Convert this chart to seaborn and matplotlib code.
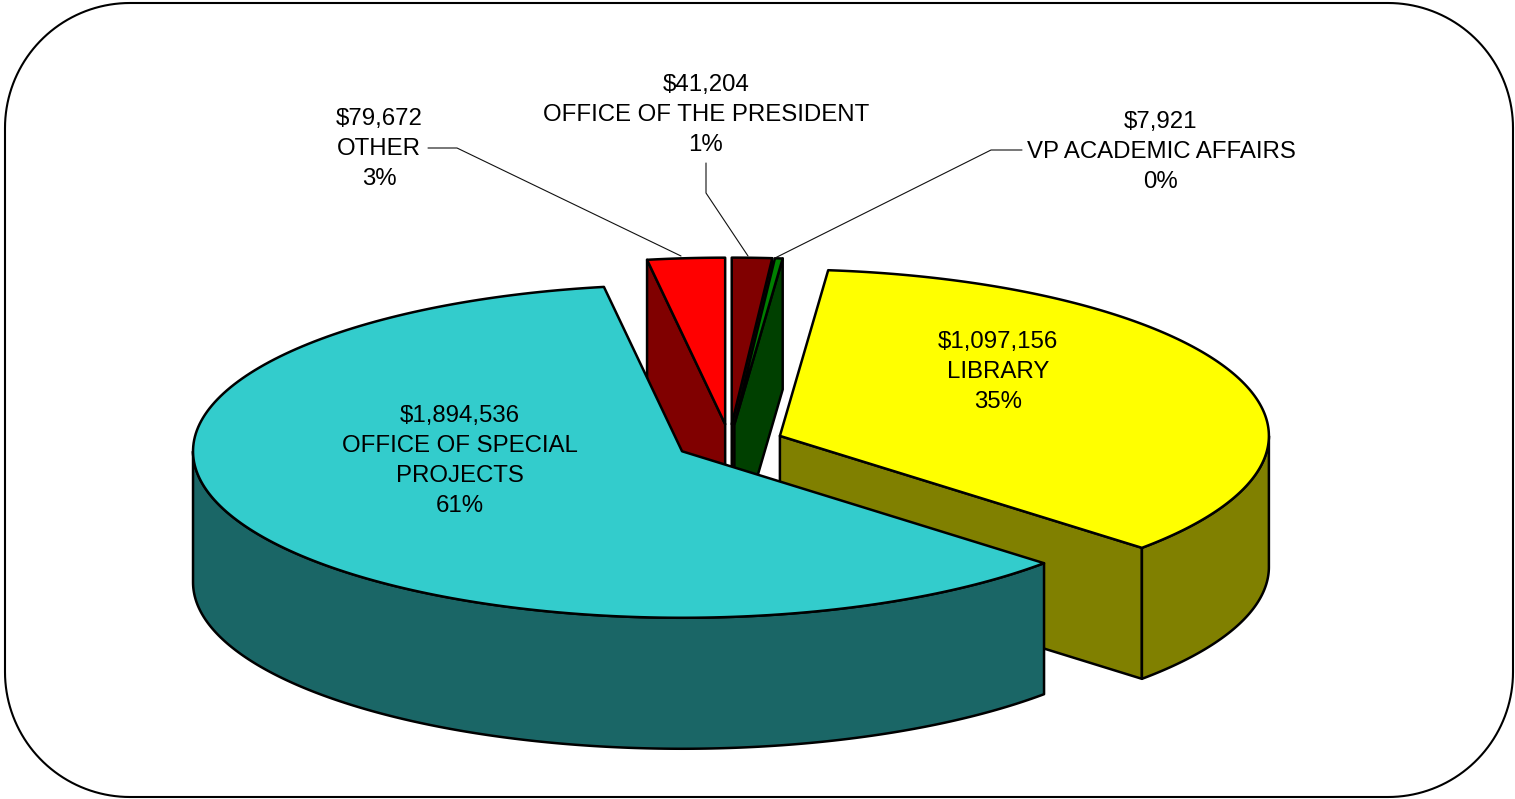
import numpy as np
import pandas as pd
import matplotlib
matplotlib.use("Agg")
import matplotlib.pyplot as plt
from matplotlib.patches import Polygon
import seaborn as sns

# data, clockwise from 12 o'clock
names = ["OFFICE OF THE PRESIDENT", "VP ACADEMIC AFFAIRS", "LIBRARY",
         "OFFICE OF SPECIAL\nPROJECTS", "OTHER"]
amounts = [41204, 7921, 1097156, 1894536, 79672]
top_colors = ["#800000", "#008000", "#FFFF00", "#33CCCC", "#FF0000"]
side_colors = ["#400000", "#004000", "#808000", "#1A6666", "#800000"]

sns.set_theme(style="white")
plt.rcParams["font.family"] = ["Liberation Sans", "DejaVu Sans"]

START_ANGLE = 90
df = pd.DataFrame({"name": names, "amount": amounts, "top": top_colors, "side": side_colors})
df["pct"] = df["amount"] / df["amount"].sum() * 100
df["sweep"] = df["pct"] * 3.6
df["end"] = START_ANGLE - df["sweep"].cumsum()
df["start"] = df["end"] + df["sweep"]
df["mid"] = (df["start"] + df["end"]) / 2

# pie layout in pixels
cx, cy = 729.5, 442.5
rx, ry = 489, 166.5
depth = 131
explode = 54
EDGE = 1.8


def rim(x0, y0, a0, a1):
    t = np.radians(np.linspace(a0, a1, 200))
    return np.column_stack([x0 + rx * np.cos(t), y0 - ry * np.sin(t)])


def draw_slice(ax, row):
    m = np.radians(row["mid"])
    x0 = cx + explode * np.cos(m)
    y0 = cy - explode * (ry / rx) * np.sin(m)
    down = np.array([0, depth])
    centre = np.array([[x0, y0]])

    # cut faces that look towards the viewer
    for ang, normal in [(row["start"], row["start"] + 90), (row["end"], row["end"] - 90)]:
        if np.sin(np.radians(normal)) < -1e-6:
            edge = np.vstack([centre, rim(x0, y0, ang, ang)[:1]])
            face = np.vstack([edge, edge[::-1] + down])
            ax.add_patch(Polygon(face, fc=row["side"], ec="black", lw=EDGE, joinstyle="round"))

    # outer wall, only the front half of the ring shows
    lo = max(row["end"], -180)
    hi = min(row["start"], 0)
    if hi > lo:
        curve = rim(x0, y0, lo, hi)
        wall = np.vstack([curve, curve[::-1] + down])
        ax.add_patch(Polygon(wall, fc=row["side"], ec="black", lw=EDGE, joinstyle="round"))

    top = np.vstack([centre, rim(x0, y0, row["start"], row["end"])])
    ax.add_patch(Polygon(top, fc=row["top"], ec="black", lw=EDGE, joinstyle="round"))


def round_box(x0, y0, x1, y1, r):
    parts = []
    for (px, py, a0) in [(x1 - r, y0 + r, 90), (x0 + r, y0 + r, 180),
                         (x0 + r, y1 - r, 270), (x1 - r, y1 - r, 360)]:
        t = np.radians(np.linspace(a0 - 90, a0, 40))
        parts.append(np.column_stack([px + r * np.cos(t), py - r * np.sin(t)]))
    return np.vstack(parts)


fig, ax = plt.subplots(figsize=(15.15, 7.99), dpi=100)
fig.subplots_adjust(0, 0, 1, 1)
ax.set_xlim(0, 1515)
ax.set_ylim(799, 0)
ax.axis("off")

ax.add_patch(Polygon(round_box(5, 3, 1513, 797, 125), fc="white", ec="black", lw=1.5))

# back to front
for i in ["OTHER", "OFFICE OF THE PRESIDENT", "VP ACADEMIC AFFAIRS", "LIBRARY",
          "OFFICE OF SPECIAL\nPROJECTS"]:
    draw_slice(ax, df[df["name"] == i].iloc[0])

# leader lines
ax.plot([428, 457, 681], [148, 148, 256], color="#111111", lw=0.8)
ax.plot([706, 706, 748], [163, 193, 256], color="#111111", lw=0.8)
ax.plot([1022, 991, 775], [150, 150, 258], color="#111111", lw=0.8)

label_pos = {"OTHER": (379, 149), "OFFICE OF THE PRESIDENT": (706, 115),
             "VP ACADEMIC AFFAIRS": (1161, 152), "LIBRARY": (998, 372),
             "OFFICE OF SPECIAL\nPROJECTS": (460, 461)}
for _, row in df.iterrows():
    x, y = label_pos[row["name"]]
    ax.text(x, y, f"${row['amount']:,}\n{row['name']}\n{row['pct']:.0f}%", ha="center", va="center",
            fontsize=17.3, color="black", linespacing=1.46)

fig.savefig("out.png", dpi=100)
